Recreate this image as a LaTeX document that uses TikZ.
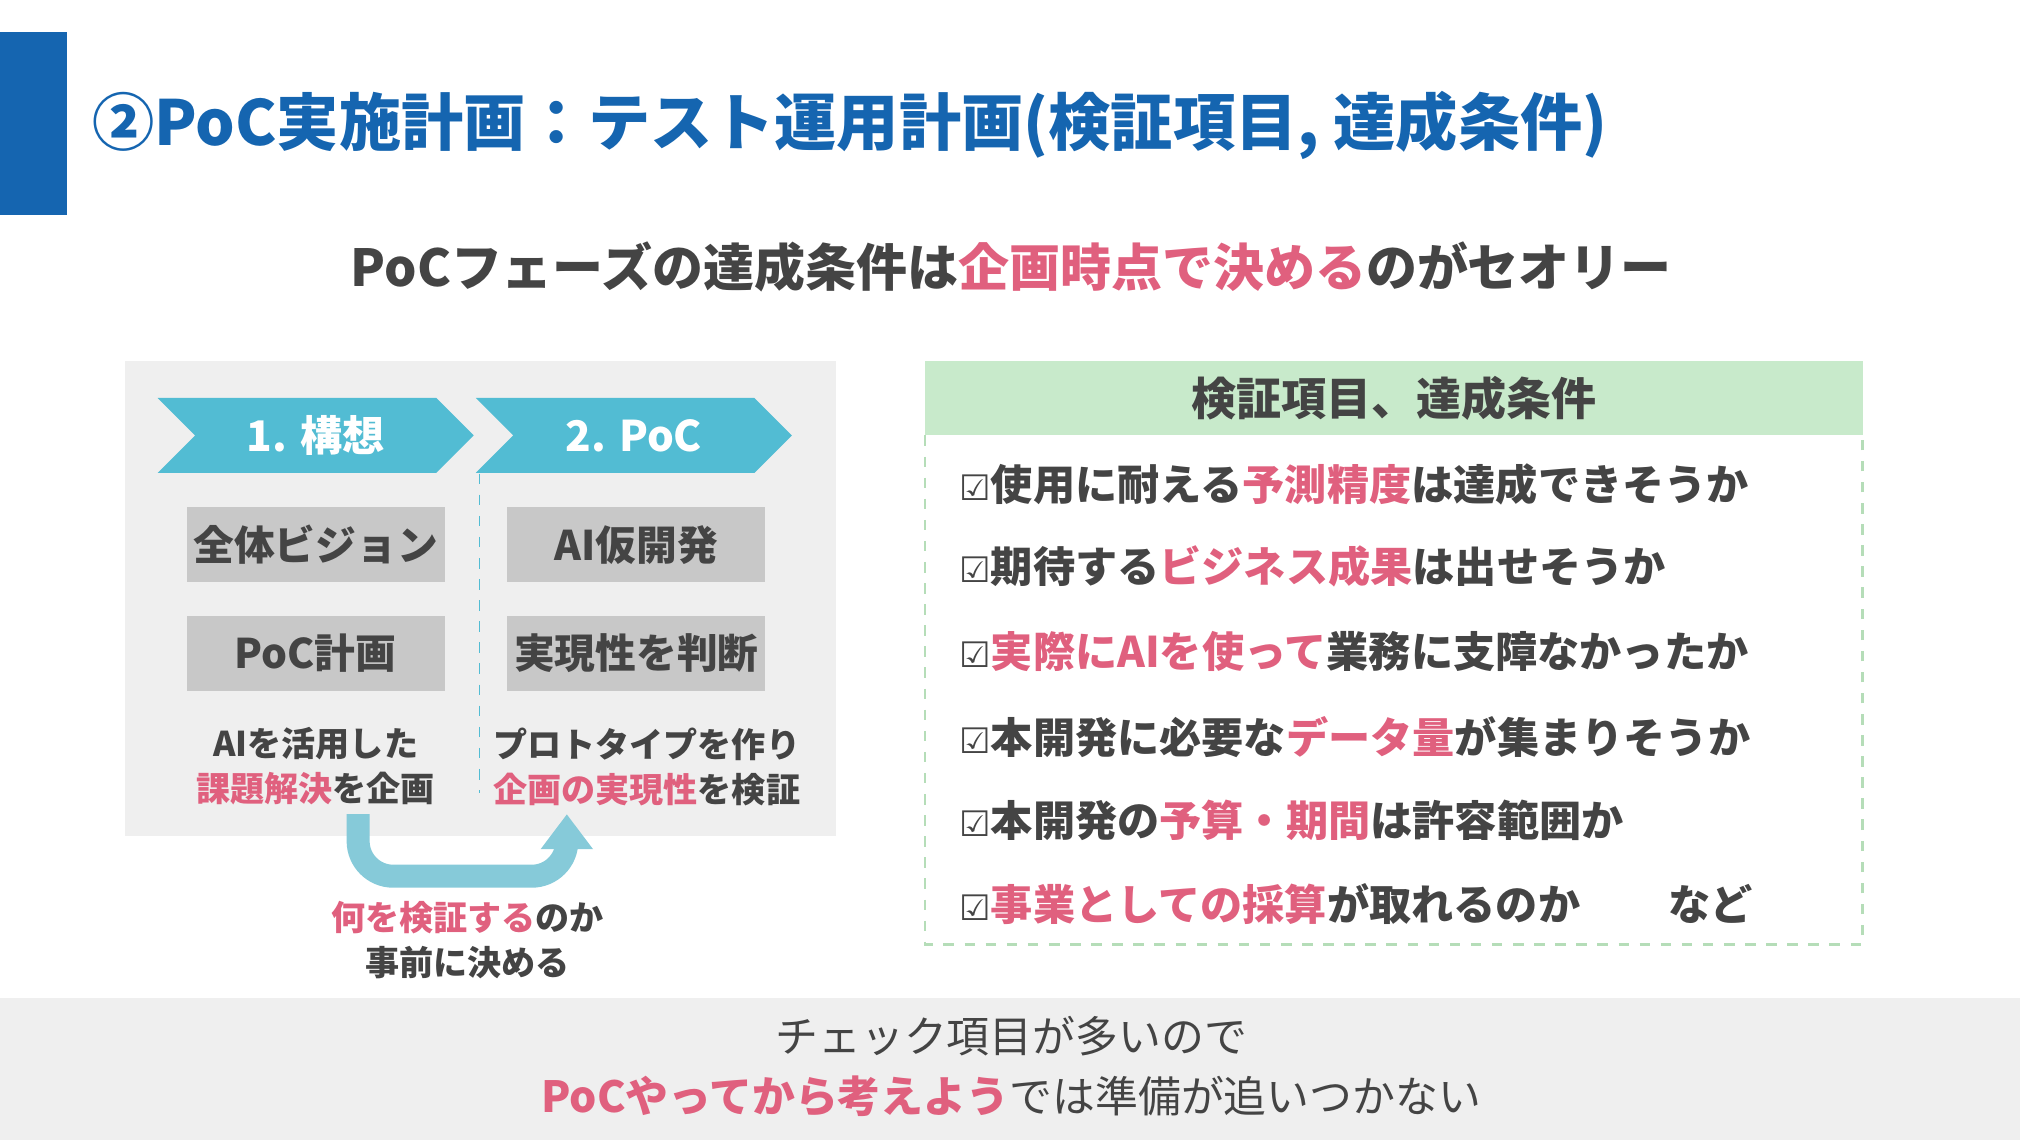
\documentclass[tikz,border=0pt]{standalone}
\usepackage{fontspec}
\setmainfont{Noto Sans CJK JP}
\newfontfamily\symfont{DejaVu Sans}
\usetikzlibrary{positioning,arrows.meta,shapes.symbols}
\definecolor{titleblue}{HTML}{1565B0}
\definecolor{chevblue}{HTML}{52BCD3}
\definecolor{arrowblue}{HTML}{86CAD9}
\definecolor{accent}{HTML}{E0607E}
\definecolor{textgray}{HTML}{444444}
\definecolor{panelgray}{HTML}{EFEFEF}
\definecolor{boxgray}{HTML}{C8C8C8}
\definecolor{headgreen}{HTML}{C8EACB}
\definecolor{dashgreen}{HTML}{B5DDB8}
\newcommand{\hl}[1]{\textcolor{accent}{#1}}
\newcommand{\chk}{{\symfont\fontsize{10}{10}\selectfont ☑}}
\tikzset{
  chev/.style={signal, signal to=east, signal from=west, fill=chevblue,
    minimum width=3.16cm, minimum height=0.75cm, inner sep=0pt,
    text=white, font=\fontsize{12}{12}\selectfont\bfseries},
  stepbox/.style={fill=boxgray, minimum width=2.58cm, minimum height=0.75cm,
    inner sep=0pt, text=textgray, font=\fontsize{11.6}{11.6}\selectfont\bfseries},
  note/.style={align=center, text=textgray, font=\fontsize{9.7}{12.8}\selectfont\bfseries},
  item/.style={anchor=west, text=textgray, font=\fontsize{12}{12}\selectfont\bfseries}
}
\begin{document}
\begin{tikzpicture}[x=0.01288cm,y=-0.01288cm]
\useasboundingbox (0,0) rectangle (1568,885);
% title
\fill[titleblue] (0,25) rectangle (52,167);
\node[anchor=west, text=titleblue, font=\fontsize{17.7}{17.7}\selectfont\bfseries] (title) at (62,97)
  {②PoC実施計画：テスト運用計画(検証項目, 達成条件)};
\node[text=textgray, font=\fontsize{14.5}{14.5}\selectfont\bfseries] (sub) at (785,207)
  {PoCフェーズの達成条件は\hl{企画時点で決める}のがセオリー};
% left panel
\fill[panelgray] (97,280) rectangle (649,649);
\node[chev] (c1) at (245,338) {1. 構想};
\node[chev] (c2) at (492,338) {2. PoC};
\draw[chevblue, dashed] (c2.south west) ++(4,0) coordinate (d1) -- ++(0,248) coordinate (d2);
\node[stepbox] (b1) at (245,423) {全体ビジョン};
\node[stepbox] (b2) at (245,507) {PoC計画};
\node[stepbox] (b3) at (494,423) {AI仮開発};
\node[stepbox] (b4) at (494,507) {実現性を判断};
\node[note] (n1) at (245,595) {AIを活用した\\\hl{課題解決}を企画};
\node[note] (n2) at (502,595) {プロトタイプを作り\\\hl{企画の実現性}を検証};
% loop arrow
\coordinate (a1) at (278,632);
\coordinate (a2) at (440,632);
\draw[arrowblue, line width=0.23cm, rounded corners=0.35cm, -{Triangle[length=0.35cm,width=0.5cm]}]
  (a1) |- ([yshift=-0.62cm]a2) -- (a2);
\node[note] (n3) at (363,730) {\hl{何を検証する}のか\\事前に決める};
% right panel
\fill[headgreen] (718,280) rectangle (1446,338);
\node[text=textgray, font=\fontsize{12.8}{12.8}\selectfont\bfseries] (head) at (1082,309) {検証項目、達成条件};
\draw[dashgreen, dashed, line width=0.8pt] (718,338) -- (718,733) -- (1446,733) -- (1446,338);
\foreach \y/\t in {376/{使用に耐える\hl{予測精度}は達成できそうか},
                   440/{期待する\hl{ビジネス成果}は出せそうか},
                   506/{\hl{実際にAIを使って}業務に支障なかったか},
                   572/{本開発に必要な\hl{データ量}が集まりそうか},
                   637/{本開発の\hl{予算・期間}は許容範囲か},
                   702/{\hl{事業としての採算}が取れるのか\hspace{2.1em}など}}
  \node[item] at (735,\y) {\chk\t};
% bottom band
\fill[panelgray] (0,775) rectangle (1568,885);
\node[align=center, text=textgray, font=\fontsize{12.2}{17}\selectfont] (foot) at (785,828)
  {チェック項目が多いので\\{\bfseries\hl{PoCやってから考えよう}}では準備が追いつかない};
\end{tikzpicture}
\end{document}
